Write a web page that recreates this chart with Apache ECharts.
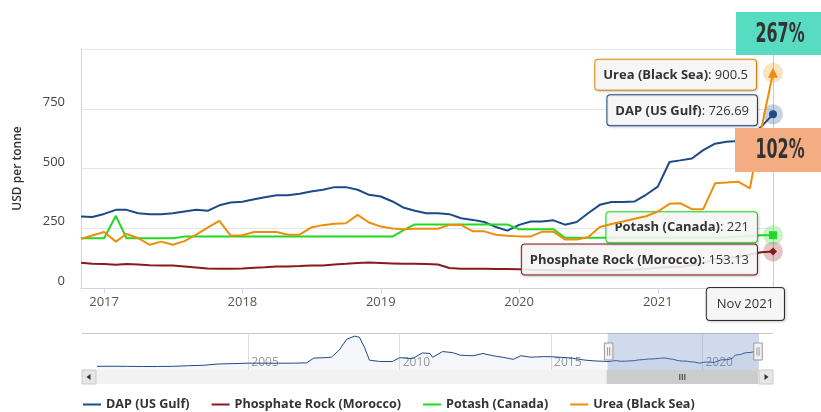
<!DOCTYPE html>
<html>
<head>
<meta charset="utf-8">
<title>Fertilizer prices</title>
<script src="https://cdn.jsdelivr.net/npm/echarts@6/dist/echarts.min.js"></script>
<style>
  html, body { margin: 0; padding: 0; background: #fff; }
  #main { width: 821px; height: 412px; }
</style>
</head>
<body>
<div id="main"></div>
<script>
// months shown in the main chart: Nov 2016 .. Nov 2021
var firstMonth = [2016, 11];
var months = [];
for (var k = 0; k < 61; k++) {
    var mm = firstMonth[1] - 1 + k;
    months.push((firstMonth[0] + Math.floor(mm / 12)) + '-' + ('0' + (mm % 12 + 1)).slice(-2) + '-01');
}
var monthNames = ['Jan','Feb','Mar','Apr','May','Jun','Jul','Aug','Sep','Oct','Nov','Dec'];

var names = ['DAP (US Gulf)', 'Phosphate Rock (Morocco)', 'Potash (Canada)', 'Urea (Black Sea)'];

var dap = [299, 297, 310, 327, 327, 313, 309, 309, 313, 320,
           327, 323, 346, 358, 361, 371, 380, 388, 388, 394,
           404, 411, 422, 422, 411, 390, 383, 362, 337, 323,
           313, 313, 309, 292, 285, 276, 255, 240, 264, 278,
           278, 283, 265, 276, 313, 348, 360, 360, 362, 390,
           424, 527, 534, 542, 577, 604, 612, 615, 635, 675, 726.69];
var phosphate = [106, 101, 100, 97, 100, 98, 95, 94, 94, 90,
                 86, 82, 81, 81, 82, 85, 87, 90, 90, 92,
                 94, 94, 98, 101, 105, 107, 105, 103, 101, 101,
                 100, 98, 84, 81, 81, 81, 80, 80, 78, 76,
                 75, 74, 73, 73, 73, 73, 74, 75, 77, 80,
                 85, 88, 88, 95, 105, 120, 124, 130, 140, 150, 153.13];
var potash = [208, 208, 208, 302, 208, 208, 208, 208, 208, 215,
              215, 215, 215, 215, 215, 215, 215, 215, 215, 215,
              215, 215, 215, 215, 215, 215, 215, 215, 241, 266,
              266, 266, 266, 266, 266, 266, 266, 266, 246, 246,
              246, 246, 210, 210, 210, 210, 210, 210, 210, 210,
              210, 210, 210, 210, 210, 210, 212, 215, 218, 221, 221];
var urea = [206, 220, 234, 194, 226, 209, 181, 194, 181, 196,
            223, 253, 281, 219, 221, 234, 234, 234, 223, 223,
            253, 263, 269, 271, 306, 274, 257, 249, 246, 248,
            248, 248, 264, 264, 237, 237, 223, 219, 216, 216,
            235, 235, 203, 203, 212, 255, 268, 278, 290, 300,
            320, 352, 355, 330, 330, 438, 441, 445, 417, 665, 900.5];

// longer DAP history drawn in the navigator (before Nov 2016)
var navDates = ['2000-01','2000-07','2001-01','2001-07','2002-01','2002-07','2003-01','2003-07',
                '2004-01','2004-07','2005-01','2005-07','2006-01','2006-07','2006-12','2007-03',
                '2007-07','2007-10','2008-01','2008-04','2008-07','2008-09','2008-11','2009-01',
                '2009-05','2009-10','2010-01','2010-06','2010-10','2011-01','2011-02','2011-06',
                '2011-10','2012-01','2012-06','2012-10','2013-02','2013-06','2013-10','2014-01',
                '2014-05','2014-10','2015-01','2015-05','2015-09','2016-02','2016-06','2016-10'];
var navDap = [130, 132, 128, 122, 125, 128, 150, 165,
              210, 225, 240, 240, 238, 240, 250, 420,
              430, 455, 700, 1080, 1190, 1150, 800, 345,
              300, 296, 433, 400, 600, 580, 445, 648,
              610, 520, 500, 580, 500, 444, 375, 501,
              450, 470, 467, 445, 421, 352, 320, 305];

var yTicks = [0, 250, 500, 750, 1000];
var navYears = [2000, 2005, 2010, 2015, 2020];
var changes = ['267%', '102%'];

var colors = ['#1d4a85', '#8a1b1b', '#22d822', '#ec8e0c'];
var symbols = ['circle', 'diamond', 'rect', 'triangle'];
var tipShift = [-4, 8, -8, 2];

function toYear(s) {
    var p = s.split('-');
    return +p[0] + (+p[1] - 1) / 12;
}
function pairs(vals) {
    return vals.map(function (v, i) { return [months[i], v]; });
}

var navData = navDates.map(function (d, i) { return [toYear(d), navDap[i]]; })
    .concat(dap.map(function (v, i) { return [toYear(months[i]), v]; }));

var tipFont = 13;

function tipPoint(i, vals) {
    var n = vals.length - 1;
    var at = [months[n], vals[n]];
    return {
        silent: true,
        label: { show: false },
        data: [
            { coord: at, symbol: 'circle', symbolSize: 20, itemStyle: { color: colors[i], opacity: 0.25 } },
            {
                coord: at, symbol: symbols[i], symbolSize: i === 3 ? 10 : 8,
                itemStyle: { color: colors[i] },
                label: {
                    show: true, position: 'left', distance: 12, offset: [0, tipShift[i]],
                    formatter: '{nm|' + names[i] + '}: ' + vals[n],
                    color: '#333', fontSize: tipFont,
                    backgroundColor: 'rgba(250,250,250,0.88)',
                    borderColor: colors[i], borderWidth: 1, borderRadius: 3,
                    padding: [9, 8, 8, 8],
                    shadowColor: 'rgba(0,0,0,0.18)', shadowBlur: 3, shadowOffsetX: 1, shadowOffsetY: 1,
                    rich: { nm: { fontWeight: 'bold', fontSize: tipFont, color: '#333' } }
                }
            }
        ]
    };
}

var lastDate = months[months.length - 1].split('-');
var crossLabel = monthNames[+lastDate[1] - 1] + ' ' + lastDate[0];

var seriesList = [dap, phosphate, potash, urea].map(function (vals, i) {
    var s = {
        name: names[i],
        type: 'line',
        xAxisIndex: 0,
        yAxisIndex: 0,
        data: pairs(vals),
        showSymbol: false,
        lineStyle: { width: 2, color: colors[i] },
        itemStyle: { color: colors[i] },
        markPoint: tipPoint(i, vals),
        z: 2 + i
    };
    if (i === 0) {
        s.markLine = {
            silent: true,
            symbol: 'none',
            lineStyle: { color: '#cccccc', width: 1, type: 'solid' },
            label: {
                show: true, position: 'start', distance: 0, formatter: crossLabel, offset: [11, 0],
                color: '#333', fontSize: 13, align: 'right',
                backgroundColor: 'rgba(250,250,250,0.9)', borderColor: '#333', borderWidth: 1, borderRadius: 3,
                padding: [10, 10, 9, 10],
                shadowColor: 'rgba(0,0,0,0.18)', shadowBlur: 3, shadowOffsetX: 1, shadowOffsetY: 1
            },
            data: [{ xAxis: months[months.length - 1] }]
        };
    }
    return s;
});

seriesList.push({
    name: 'navigator',
    type: 'line',
    xAxisIndex: 1,
    yAxisIndex: 1,
    data: navData,
    showSymbol: false,
    silent: true,
    lineStyle: { width: 1, color: colors[0] },
    areaStyle: { color: 'rgba(29,74,133,0.06)' }
});

var chart = echarts.init(document.getElementById('main'));

var pctFont = "bold 26px 'DejaVu Sans Condensed', 'DejaVu Sans', sans-serif";

var option = {
    animation: false,
    textStyle: { fontFamily: "'Open Sans', 'DejaVu Sans', sans-serif" },
    color: colors,
    legend: {
        data: names,
        left: 78,
        top: 393,
        icon: 'rect',
        itemWidth: 18,
        itemHeight: 2,
        itemGap: 22,
        textStyle: { color: '#333', fontSize: 12.6, fontWeight: 'bold' }
    },
    grid: [
        { left: 81, right: 48, top: 49, bottom: 124, outerBoundsMode: 'none' },
        { left: 97, right: 63, top: 333, height: 37, outerBoundsMode: 'none' }
    ],
    xAxis: [
        {
            gridIndex: 0,
            type: 'time',
            min: navDates[0] + '-01',
            max: months[months.length - 1],
            minInterval: 365 * 864e5,
            maxInterval: 366 * 864e5,
            axisLine: { lineStyle: { color: '#ccd6eb' } },
            axisTick: { show: true, length: 5, lineStyle: { color: '#ccd6eb' } },
            axisLabel: { formatter: '{yyyy}', color: '#555', fontSize: 13, margin: 8 },
            splitLine: { show: false }
        },
        {
            gridIndex: 1,
            type: 'value',
            min: navYears[0],
            max: toYear(months[months.length - 1]),
            interval: navYears[1] - navYears[0],
            axisLine: { show: false },
            axisTick: { show: false },
            splitLine: { show: true, showMinLine: false, showMaxLine: false, lineStyle: { color: '#e0e0e0' } },
            axisLabel: {
                inside: true, align: 'left', margin: 1, padding: [0, 0, 0, 3],
                color: '#999', fontSize: 12, showMinLabel: false, showMaxLabel: false,
                formatter: function (v) { return navYears.indexOf(v) > 0 ? String(v) : ''; }
            }
        }
    ],
    yAxis: [
        {
            gridIndex: 0,
            type: 'value',
            min: yTicks[0],
            max: yTicks[yTicks.length - 1],
            interval: yTicks[1] - yTicks[0],
            name: 'USD per tonne',
            nameLocation: 'middle',
            nameGap: 57,
            nameTextStyle: { color: '#333', fontSize: 12, fontWeight: 600 },
            axisLine: { show: true, lineStyle: { color: '#ccd6eb' } },
            axisTick: { show: false },
            splitLine: { lineStyle: { color: '#e6e6e6' } },
            axisLabel: {
                color: '#444', fontSize: 13, margin: 16, verticalAlign: 'bottom',
                formatter: function (v) { return v === yTicks[yTicks.length - 1] ? '' : String(v); }
            }
        },
        { gridIndex: 1, type: 'value', min: 0, max: 1300, show: false }
    ],
    dataZoom: [{
        type: 'slider',
        xAxisIndex: 0,
        filterMode: 'none',
        startValue: months[0],
        endValue: months[months.length - 1],
        left: 97, right: 63, top: 333, height: 37,
        backgroundColor: 'rgba(0,0,0,0)',
        borderColor: 'rgba(0,0,0,0)',
        fillerColor: 'rgba(102,133,194,0.3)',
        showDataShadow: false,
        showDetail: false,
        brushSelect: false,
        handleIcon: 'path://M0,0 H8 V16 H0 Z M3,4 V12 M5,4 V12',
        handleSize: 17,
        handleStyle: { color: '#f2f2f2', borderColor: '#999999', borderWidth: 1 },
        moveHandleSize: 0,
        z: 10
    }],
    graphic: [
        { type: 'line', shape: { x1: 82, y1: 333.5, x2: 773, y2: 333.5 }, style: { stroke: '#cccccc', lineWidth: 1 }, z: 1 },
        { type: 'rect', shape: { x: 82, y: 370, width: 691, height: 14 }, style: { fill: '#f2f2f2' }, z: 1 },
        { type: 'rect', shape: { x: 82, y: 370, width: 14, height: 14 }, style: { fill: '#e6e6e6', stroke: '#cccccc' }, z: 2 },
        { type: 'polygon', shape: { points: [[86.5, 377], [90.5, 374], [90.5, 380]] }, style: { fill: '#333' }, z: 3 },
        { type: 'rect', shape: { x: 759, y: 370, width: 14, height: 14 }, style: { fill: '#e6e6e6', stroke: '#cccccc' }, z: 2 },
        { type: 'polygon', shape: { points: [[768.5, 377], [764.5, 374], [764.5, 380]] }, style: { fill: '#333' }, z: 3 },
        { type: 'rect', shape: { x: 736, y: 12, width: 90, height: 43 }, style: { fill: '#57dbc1' }, z: 100 },
        { type: 'text', x: 780, y: 35, scaleX: 0.68, style: { text: changes[0], fill: '#333', align: 'center', verticalAlign: 'middle', font: pctFont }, z: 101 },
        { type: 'rect', shape: { x: 735, y: 128, width: 90, height: 44 }, style: { fill: '#f4ad82' }, z: 100 },
        { type: 'text', x: 780, y: 151, scaleX: 0.68, style: { text: changes[1], fill: '#333', align: 'center', verticalAlign: 'middle', font: pctFont }, z: 101 }
    ],
    series: seriesList
};

chart.setOption(option);

// scrollbar thumb under the selected navigator window, placed with the navigator's own axis
var thumbL = chart.convertToPixel({ xAxisIndex: 1 }, toYear(months[0]));
var thumbR = chart.convertToPixel({ xAxisIndex: 1 }, toYear(months[months.length - 1]));
var thumbMid = (thumbL + thumbR) / 2;
option.graphic.push(
    { type: 'rect', shape: { x: thumbL, y: 370, width: thumbR - thumbL, height: 14 }, style: { fill: '#cccccc' }, z: 4 },
    { type: 'rect', shape: { x: thumbMid - 3, y: 374, width: 1, height: 6 }, style: { fill: '#333' }, z: 5 },
    { type: 'rect', shape: { x: thumbMid - 0.5, y: 374, width: 1, height: 6 }, style: { fill: '#333' }, z: 5 },
    { type: 'rect', shape: { x: thumbMid + 2, y: 374, width: 1, height: 6 }, style: { fill: '#333' }, z: 5 }
);
chart.setOption({ graphic: option.graphic });
</script>
</body>
</html>
